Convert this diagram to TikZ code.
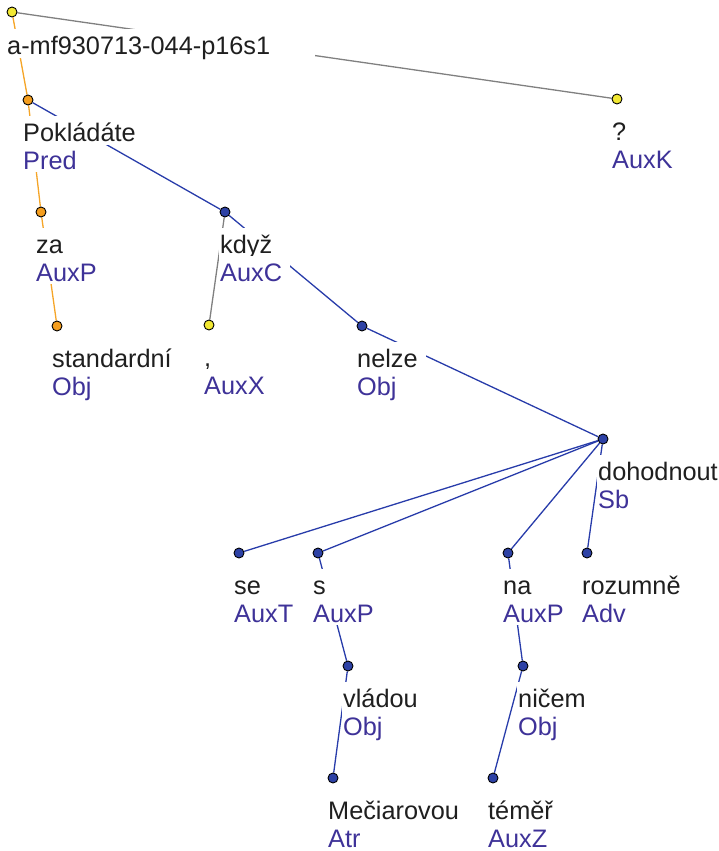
\documentclass[tikz,border=0pt]{standalone}
\usepackage{fontspec}
\setmainfont{Liberation Sans}
\usetikzlibrary{backgrounds}
\definecolor{ylw}{RGB}{242,232,50}
\definecolor{org}{RGB}{245,158,30}
\definecolor{blu}{RGB}{45,65,165}
\definecolor{fnc}{RGB}{62,50,152}
\definecolor{edb}{RGB}{40,60,170}
\definecolor{edo}{RGB}{245,165,40}
\definecolor{edg}{RGB}{128,128,128}
\tikzset{
  dot/.style={circle,draw=black,line width=0.9pt,minimum size=10pt,inner sep=0pt},
  wordlbl/.style={anchor=base west,fill=white,inner xsep=1pt,inner ysep=0.5pt,
    text height=25pt,text depth=3pt,font=\fontsize{25.3}{30}\selectfont,text=black!88},
  funclbl/.style={wordlbl,text=fnc,text depth=2pt},
  eb/.style={draw=edb,line width=1.3pt},
  eo/.style={draw=edo,line width=1.3pt},
  eg/.style={draw=edg,line width=1.3pt}
}
\newcommand\padr[1]{\rule{#1}{0pt}}
\newcommand\tnode[6]{%
  \node[dot,fill=#4] (#1) at (#2,#3) {};
  \node[wordlbl] (#1w) at (#2-6,#3+41) {#5\padr{7pt}};
  \node[funclbl] (#1f) at (#2-6,#3+69) {#6\padr{7pt}};
}
\begin{document}
\begin{tikzpicture}[x=1pt,y=-1pt]
\useasboundingbox (0,0) rectangle (718,851);
\node[dot,fill=ylw] (root) at (12,12) {};
\node[wordlbl] (rootw) at (6,55) {a-mf930713-044-p16s1\padr{44pt}};
\tnode{pok}{28}{100}{org}{Pokládáte}{Pred}
\tnode{q}{617}{99}{ylw}{?}{AuxK}
\tnode{za}{41}{212}{org}{za}{AuxP}
\tnode{kdyz}{225}{212}{blu}{když}{AuxC}
\tnode{std}{57}{326}{org}{standardní}{Obj}
\tnode{com}{209}{325}{ylw}{,}{AuxX}
\tnode{nelze}{362}{326}{blu}{nelze}{Obj}
\tnode{doh}{603}{439}{blu}{dohodnout}{Sb}
\tnode{se}{239}{553}{blu}{se}{AuxT}
\tnode{s}{318}{553}{blu}{s}{AuxP}
\tnode{na}{508}{553}{blu}{na}{AuxP}
\tnode{roz}{587}{553}{blu}{rozumně}{Adv}
\tnode{vla}{348}{666}{blu}{vládou}{Obj}
\tnode{nic}{523}{666}{blu}{ničem}{Obj}
\tnode{mec}{333}{778}{blu}{Mečiarovou}{Atr}
\tnode{tem}{493}{778}{blu}{téměř}{AuxZ}
\begin{pgfonlayer}{background}
\draw[eo] (root) -- (pok);
\draw[eg] (root) -- (q);
\draw[eo] (pok) -- (za);
\draw[eb] (pok) -- (kdyz);
\draw[eo] (za) -- (std);
\draw[eg] (kdyz) -- (com);
\draw[eb] (kdyz) -- (nelze);
\draw[eb] (nelze) -- (doh);
\draw[eb] (doh) -- (se);
\draw[eb] (doh) -- (s);
\draw[eb] (doh) -- (na);
\draw[eb] (doh) -- (roz);
\draw[eb] (s) -- (vla);
\draw[eb] (vla) -- (mec);
\draw[eb] (na) -- (nic);
\draw[eb] (nic) -- (tem);
\end{pgfonlayer}
\end{tikzpicture}
\end{document}
